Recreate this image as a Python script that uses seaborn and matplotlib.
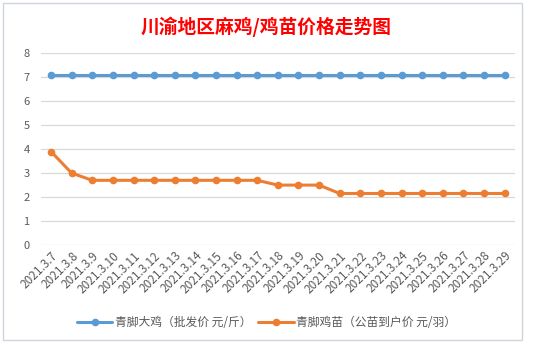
import matplotlib
matplotlib.use("Agg")
import matplotlib.pyplot as plt
import seaborn as sns
import pandas as pd
from matplotlib.patches import Rectangle

dates = ["2021.3.7", "2021.3.8", "2021.3.9", "2021.3.10", "2021.3.11", "2021.3.12",
         "2021.3.13", "2021.3.14", "2021.3.15", "2021.3.16", "2021.3.17", "2021.3.18",
         "2021.3.19", "2021.3.20", "2021.3.21", "2021.3.22", "2021.3.23", "2021.3.24",
         "2021.3.25", "2021.3.26", "2021.3.27", "2021.3.28", "2021.3.29"]
big_chicken = [7.1] * 23
chick = [3.9, 3.0, 2.7, 2.7, 2.7, 2.7, 2.7, 2.7, 2.7, 2.7, 2.7, 2.5, 2.5, 2.5,
         2.15, 2.15, 2.15, 2.15, 2.15, 2.15, 2.15, 2.15, 2.15]
series_names = ["青脚大鸡（批发价 元/斤）", "青脚鸡苗（公苗到户价 元/羽）"]
colors = ["#5B9BD5", "#ED7D31"]
title = "川渝地区麻鸡/鸡苗价格走势图"

sns.set_theme(style="white")
plt.rcParams['font.family'] = ['Noto Sans CJK SC', 'DejaVu Sans']

df = pd.DataFrame({
    "idx": list(range(len(dates))) * 2,
    "value": big_chicken + chick,
    "series": [series_names[0]] * len(dates) + [series_names[1]] * len(dates),
})

fig = plt.figure(figsize=(5.33, 3.43), dpi=100)
fig.patch.set_facecolor("white")
ax = fig.add_axes([0.0764, 0.2857, 0.8897, 0.5589])

sns.lineplot(data=df, x="idx", y="value", hue="series", palette=colors,
             marker="o", markersize=5.5, markeredgewidth=0, linewidth=2.2,
             ax=ax, legend=True)

ax.set_xlim(-0.5, len(dates) - 0.5)
ax.set_ylim(0, 8)
ax.set_yticks(range(0, 9))
ax.yaxis.grid(True, color="#D9D9D9", linewidth=0.9)
ax.xaxis.grid(False)
for s in ax.spines.values():
    s.set_visible(False)
ax.set_xticks(range(len(dates)))
ax.set_xticklabels(dates, rotation=45, ha="right", rotation_mode="anchor",
                   fontsize=8.5, color="#595959")
ax.tick_params(axis="y", labelsize=8, labelcolor="#595959", length=0, pad=8)
ax.tick_params(axis="x", length=0, pad=3)
ax.set_xlabel("")
ax.set_ylabel("")

handles, labels = ax.get_legend_handles_labels()
ax.legend(handles, labels, loc="center", bbox_to_anchor=(0.5, 0.06),
          bbox_transform=fig.transFigure, ncol=2, frameon=False,
          fontsize=8.5, handlelength=3.0, columnspacing=0.6, handletextpad=0.2,
          labelcolor="#595959")

fig.text(0.5, 0.922, title, ha="center", va="center", fontsize=13.5,
         fontweight="bold", color="#FF0000")

fig.patches.append(Rectangle((0.006, 0.009), 0.973, 0.982, transform=fig.transFigure,
                             fill=False, edgecolor="#D0D4DC", linewidth=1.0))

fig.savefig("out.png", dpi=100)
